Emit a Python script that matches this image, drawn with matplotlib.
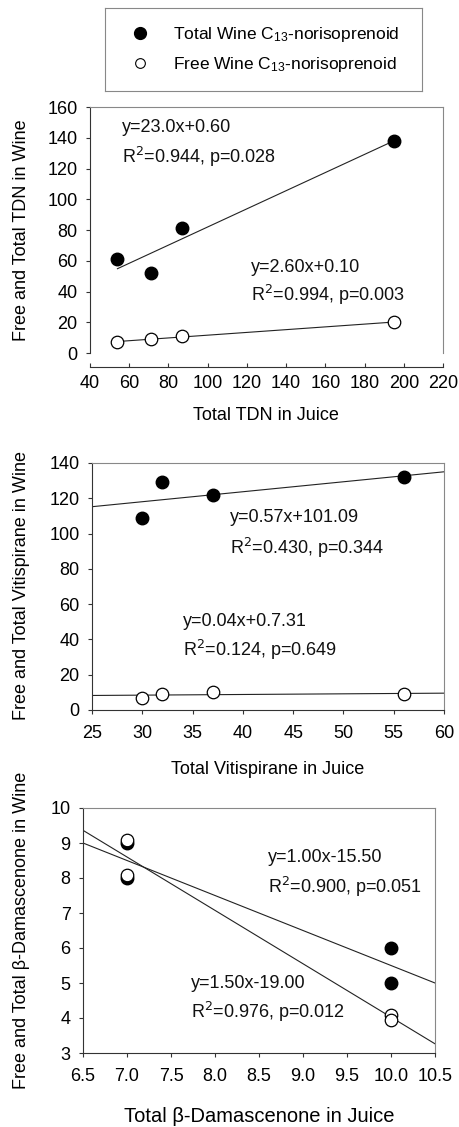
import numpy as np
import matplotlib.pyplot as plt
from matplotlib.lines import Line2D

plt.rcParams['font.family'] = ['Liberation Sans', 'DejaVu Sans']
plt.rcParams['mathtext.fontset'] = 'custom'
plt.rcParams['mathtext.rm'] = 'Liberation Sans'
plt.rcParams['mathtext.it'] = 'Liberation Sans'

# panel 1: TDN
tdn_juice = [54, 71, 87, 195]
tdn_total = [61, 52, 81, 138]
tdn_free = [7, 9, 11, 20]

# panel 2: vitispirane
vit_juice = [30, 32, 37, 56]
vit_total = [109, 129, 122, 132]
vit_free = [7, 9, 10, 9]

# panel 3: beta-damascenone
dam_juice = [7, 7, 10, 10]
dam_total = [9, 8, 6, 5]
dam_free = [9.1, 8.1, 4.1, 3.95]

W, H = 460, 1127
FS = 13
fig = plt.figure(figsize=(W / 100, H / 100), dpi=100)


def rect(l, t, r, b):
    return [l / W, 1 - b / H, (r - l) / W, (b - t) / H]


def style(ax):
    for s in ['top', 'right']:
        ax.spines[s].set_color('#888888')
    for s in ['left', 'bottom']:
        ax.spines[s].set_color('#333333')
    for s in ax.spines.values():
        s.set_linewidth(0.8)
    ax.tick_params(direction='out', length=3, width=0.8, labelsize=FS,
                   color='#333333')
    ax.tick_params(axis='x', pad=8)
    ax.tick_params(axis='y', pad=6)


def fit_line(ax, x, y, x0, x1):
    k, b = np.polyfit(x, y, 1)
    xs = np.array([x0, x1])
    ax.plot(xs, k * xs + b, color='#222222', lw=0.8, zorder=2)


def points(ax, x, y_tot, y_free):
    ax.plot(x, y_tot, 'o', ms=9, mfc='black', mec='black', zorder=3)
    ax.plot(x, y_free, 'o', ms=9, mfc='white', mec='black', mew=0.9, zorder=4)


txt = dict(fontsize=FS, va='center', ha='left', color='#111111')
R2 = 'R$^{\\mathrm{\\mathsf{2}}}$'

# ---- panel 1
ax1 = fig.add_axes(rect(90, 107, 443, 353))
style(ax1)
ax1.spines['bottom'].set_position(('outward', 10))
ax1.tick_params(axis='x', direction='in', pad=6)
fit_line(ax1, tdn_juice, tdn_total, min(tdn_juice), max(tdn_juice))
fit_line(ax1, tdn_juice, tdn_free, min(tdn_juice), max(tdn_juice))
points(ax1, tdn_juice, tdn_total, tdn_free)
ax1.set_xlim(40, 220)
ax1.set_ylim(0, 160)
ax1.set_xticks(np.arange(40, 221, 20))
ax1.set_yticks(np.arange(0, 161, 20))
fig.text(122 / W, 1 - 127 / H, 'y=23.0x+0.60', **txt)
fig.text(122 / W, 1 - 157 / H, R2 + '=0.944, p=0.028', **txt)
fig.text(251 / W, 1 - 267 / H, 'y=2.60x+0.10', **txt)
fig.text(251 / W, 1 - 295 / H, R2 + '=0.994, p=0.003', **txt)
fig.text(266 / W, 1 - 415 / H, 'Total TDN in Juice', fontsize=FS, ha='center', va='center')
fig.text(22 / W, 1 - 230 / H, 'Free and Total TDN in Wine', fontsize=FS,
         ha='center', va='center', rotation=90)

# ---- panel 2
ax2 = fig.add_axes(rect(92, 463, 444, 710))
style(ax2)
fit_line(ax2, vit_juice, vit_total, 25, 60)
fit_line(ax2, vit_juice, vit_free, 25, 60)
points(ax2, vit_juice, vit_total, vit_free)
ax2.set_xlim(25, 60)
ax2.set_ylim(0, 140)
ax2.set_xticks(np.arange(25, 61, 5))
ax2.set_yticks(np.arange(0, 141, 20))
fig.text(230 / W, 1 - 518 / H, 'y=0.57x+101.09', **txt)
fig.text(230 / W, 1 - 548 / H, R2 + '=0.430, p=0.344', **txt)
fig.text(183 / W, 1 - 622 / H, 'y=0.04x+0.7.31', **txt)
fig.text(183 / W, 1 - 650 / H, R2 + '=0.124, p=0.649', **txt)
fig.text(268 / W, 1 - 770 / H, 'Total Vitispirane in Juice', fontsize=FS, ha='center', va='center')
fig.text(22 / W, 1 - 586 / H, 'Free and Total Vitispirane in Wine', fontsize=FS,
         ha='center', va='center', rotation=90)

# ---- panel 3
ax3 = fig.add_axes(rect(83, 808, 435, 1053))
style(ax3)
fit_line(ax3, dam_juice, dam_total, 6.5, 10.5)
fit_line(ax3, dam_juice, dam_free, 6.5, 10.5)
points(ax3, dam_juice, dam_total, dam_free)
ax3.set_xlim(6.5, 10.5)
ax3.set_ylim(3, 10)
ax3.set_xticks(np.arange(6.5, 10.51, 0.5))
ax3.set_xticklabels(['%.1f' % v for v in np.arange(6.5, 10.51, 0.5)])
ax3.set_yticks(np.arange(3, 11, 1))
fig.text(268 / W, 1 - 858 / H, 'y=1.00x-15.50', **txt)
fig.text(268 / W, 1 - 887 / H, R2 + '=0.900, p=0.051', **txt)
fig.text(191 / W, 1 - 983 / H, 'y=1.50x-19.00', **txt)
fig.text(191 / W, 1 - 1012 / H, R2 + '=0.976, p=0.012', **txt)
fig.text(259 / W, 1 - 1117 / H, 'Total \u03b2-Damascenone in Juice', fontsize=14.5,
         ha='center', va='center')
fig.text(22 / W, 1 - 930 / H, 'Free and Total \u03b2-Damascenone in Wine', fontsize=FS,
         ha='center', va='center', rotation=90)

# ---- legend box
lax = fig.add_axes(rect(105, 8, 422, 91))
lax.set_xticks([])
lax.set_yticks([])
for s in lax.spines.values():
    s.set_color('#888888')
    s.set_linewidth(0.8)
handles = [
    Line2D([], [], ls='none', marker='o', ms=8.5, mfc='black', mec='black'),
    Line2D([], [], ls='none', marker='o', ms=7, mfc='white', mec='black', mew=0.8),
]
labels = ['Total Wine C$_{13}$-norisoprenoid', 'Free Wine C$_{13}$-norisoprenoid']
lax.legend(handles, labels, loc='center left', bbox_to_anchor=(0.082, 0.5),
           frameon=False, fontsize=12.5, borderpad=0, borderaxespad=0,
           handletextpad=1.4, labelspacing=0.6, handlelength=1.0)

fig.savefig('out.png', dpi=100)
